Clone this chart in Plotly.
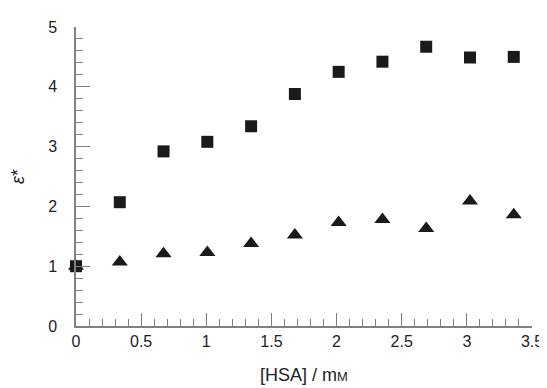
import plotly.graph_objects as go

hsa = [0, 0.336, 0.672, 1.008, 1.344, 1.68, 2.016, 2.352, 2.688, 3.024, 3.36]
eps_square = [1.0, 2.07, 2.92, 3.08, 3.34, 3.88, 4.25, 4.42, 4.67, 4.49, 4.50]
eps_triangle = [1.0, 1.07, 1.21, 1.23, 1.38, 1.52, 1.73, 1.78, 1.63, 2.09, 1.86]
x_ticks = [0, 0.5, 1, 1.5, 2, 2.5, 3, 3.5]
x_ticklabels = ["0", "0.5", "1", "1.5", "2", "2.5", "3", "3.5"]
y_ticks = [0, 1, 2, 3, 4, 5]

axis_col = "#808080"
ink = "#1a1a1a"

fig = go.Figure()
fig.add_trace(go.Scatter(x=hsa, y=eps_triangle, mode="markers",
                         marker=dict(symbol="triangle-up", size=14, color=ink),
                         cliponaxis=False, showlegend=False))
fig.add_trace(go.Scatter(x=hsa, y=eps_square, mode="markers",
                         marker=dict(symbol="square", size=12, color=ink),
                         cliponaxis=False, showlegend=False))

# page body has an 8px default margin; figure sized to fit the 547x388 window
fig.update_layout(
    width=539, height=380,
    margin=dict(l=68, r=15, t=19, b=62),
    plot_bgcolor="white", paper_bgcolor="white",
    font=dict(family="Liberation Sans, Arial, sans-serif", size=16, color="#222"),
    xaxis=dict(range=[0, 3.5], tickvals=x_ticks, ticktext=x_ticklabels,
               ticks="inside", ticklen=13, tickcolor=axis_col, tickwidth=1,
               showline=True, linecolor=axis_col, linewidth=1.5,
               showgrid=False, zeroline=False, automargin=False,
               ticklabelstandoff=0,
               minor=dict(dtick=0.1, ticks="inside", ticklen=7, tickcolor=axis_col, showgrid=False),
               title=dict(text="[HSA] / m<span style='font-size:13px'>M</span>",
                          font=dict(size=18), standoff=19)),
    yaxis=dict(range=[0, 5], tickvals=y_ticks,
               ticks="inside", ticklen=14, tickcolor=axis_col, tickwidth=1,
               showline=True, linecolor=axis_col, linewidth=1.5,
               showgrid=False, zeroline=False, ticklabelstandoff=14, automargin=False,
               minor=dict(dtick=0.2, ticks="inside", ticklen=7, tickcolor=axis_col, showgrid=False),
               title=dict(text="<i>ε</i>*", font=dict(size=18), standoff=22)),
)

fig.write_html("out.html")
